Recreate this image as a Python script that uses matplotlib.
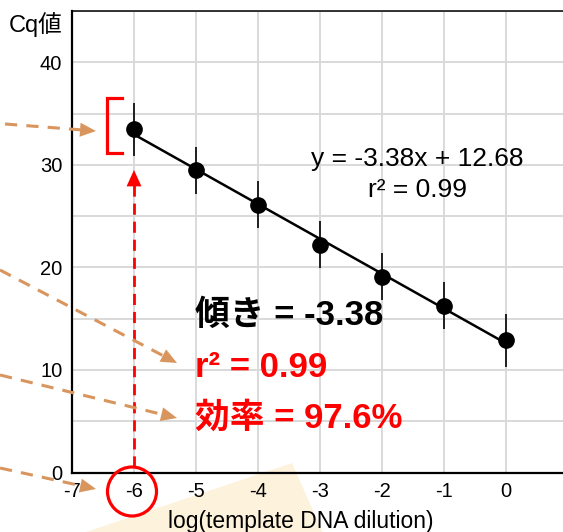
import numpy as np
import matplotlib.pyplot as plt
from matplotlib.lines import Line2D
from matplotlib.patches import Polygon, Circle

plt.rcParams['font.family'] = ['Liberation Sans', 'Noto Sans CJK JP', 'DejaVu Sans']
plt.rcParams['axes.unicode_minus'] = False

# data
dilution = [-6, -5, -4, -3, -2, -1, 0]
cq = [33.45, 29.45, 26.1, 22.2, 19.1, 16.25, 12.9]
cq_err = [2.6, 2.3, 2.3, 2.3, 2.3, 2.3, 2.6]
slope_txt = '-3.38'
icpt_txt = '12.68'
r2_txt = '0.99'
eff_txt = '97.6%'

W, H = 563, 532
fig = plt.figure(figsize=(W / 100, H / 100), dpi=100)
ax = fig.add_axes([72 / W, 1 - 472.5 / H, (568 - 72) / W, (472.5 - 11) / H])
ax.set_facecolor('none')
ax.set_xlim(-7, 1)
ax.set_ylim(0, 45)
ax.set_xticks(range(-7, 2))
ax.set_yticks(range(0, 50, 10))
ax.set_yticks(range(0, 50, 5), minor=True)
ax.grid(True, which='both', color='#d9d9d9', lw=1.4)
ax.set_axisbelow(True)
ax.tick_params(which='both', length=0, labelsize=14.5, pad=7)
for s in ['left', 'bottom']:
    ax.spines[s].set_linewidth(1.6)
ax.spines['top'].set_linewidth(1.1)
ax.spines['right'].set_visible(False)

# fit line
k, b = np.polyfit(dilution, cq, 1)
xx = np.array([dilution[0], dilution[-1]])
ax.plot(xx, k * xx + b, color='black', lw=1.8, zorder=3)
ax.errorbar(dilution, cq, yerr=cq_err, fmt='o', color='black', ms=11,
            elinewidth=1.2, capsize=0, zorder=4)

ax.text(-1.43, 30.55, 'y = ' + slope_txt + 'x + ' + icpt_txt, fontsize=19,
        ha='center', va='center')
ax.text(-1.43, 27.5, 'r² = ' + r2_txt, fontsize=19, ha='center', va='center')

big = dict(fontsize=25, fontweight='bold', ha='left', va='center')
ax.text(-5.02, 15.3, '傾き = ' + slope_txt, color='black', **big)
ax.text(-5.02, 10.2, 'r² = ' + r2_txt, color='#ff0000', **big)
ax.text(-5.02, 5.3, '効率 = ' + eff_txt, color='#ff0000', **big)

# red bracket around the first error bar
ax.plot([-6.2, -6.44, -6.44, -6.2], [36.5, 36.5, 31.2, 31.2], color='#ff0000',
        lw=2.3, clip_on=False, zorder=5, solid_joinstyle='miter')

# red dashed arrow from x = -6 up to the point
ax.plot([-6, -6], [0.5, 28.2], color='#ff0000', lw=2, dashes=(4, 2.5), zorder=5)
ax.fill([-6, -6.12, -5.88], [29.5, 27.9, 27.9], color='#ff0000', zorder=5, lw=0)

fig.text(63 / W, 1 - 25 / H, 'Cq値', fontsize=17, ha='right', va='center')
fig.text(301 / W, 1 - 528 / H, 'log(template DNA dilution)', fontsize=16.5,
         ha='center', va='baseline')


def px(x, y):
    return x / W, 1 - y / H


# cream shape behind the x label
fig.add_artist(Polygon([px(83, 533), px(292, 463), px(323, 533)], closed=True,
                       transform=fig.transFigure, facecolor='#fdf2dc',
                       edgecolor='none', zorder=-1))

# red circle on the -6 tick label
fig.add_artist(Circle((132, H - 491.5), 24.5, transform=None, fill=False,
                      edgecolor='#ff0000', lw=2.3, zorder=6))


def orange_arrow(x0, y0, x1, y1):
    d = np.array([x1 - x0, y1 - y0], dtype=float)
    u = d / np.hypot(*d)
    n = np.array([-u[1], u[0]])
    hl, hw = 16, 7
    base = np.array([x1, y1]) - u * hl
    fig.add_artist(Line2D([x0 / W, base[0] / W], [1 - y0 / H, 1 - base[1] / H],
                          transform=fig.transFigure, color='#d9955e', lw=2.2,
                          dashes=(4, 3)))
    pts = [(x1, y1), tuple(base + n * hw), tuple(base - n * hw)]
    fig.add_artist(Polygon([px(*p) for p in pts], closed=True,
                           transform=fig.transFigure, facecolor='#d9955e',
                           edgecolor='none'))


orange_arrow(5, 124, 96, 131)
orange_arrow(0, 270, 177, 363)
orange_arrow(0, 375, 177, 418)
orange_arrow(0, 468, 96, 489)

fig.savefig('out.png', dpi=100)
